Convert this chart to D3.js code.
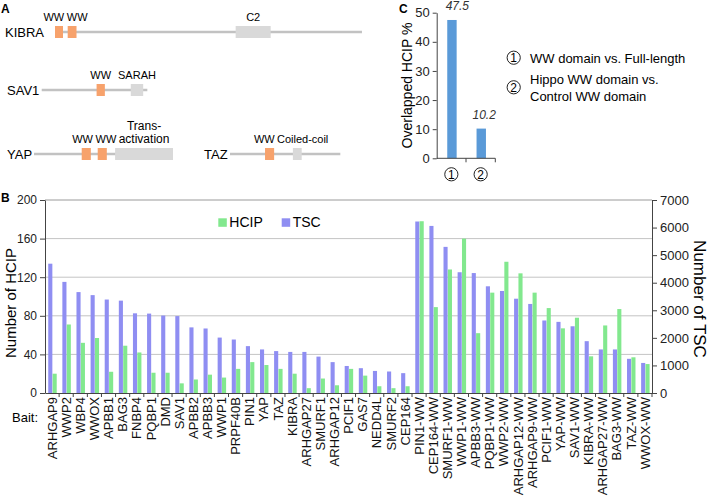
<!DOCTYPE html>
<html>
<head>
<meta charset="utf-8">
<script src="https://cdn.jsdelivr.net/npm/d3@7"></script>
<style>
  body { margin: 0; background: #fff; }
  svg { display: block; font-family: "Liberation Sans", Arial, sans-serif; }
</style>
</head>
<body>
<svg id="fig" width="709" height="501"></svg>
<script>
"use strict";

// ---- panel B data ----
const baits = ["ARHGAP9", "WWP2", "WBP4", "WWOX", "APBB1", "BAG3", "FNBP4", "PQBP1", "DMD", "SAV1",
    "APBB2", "APBB3", "WWP1", "PRPF40B", "PIN1", "YAP", "TAZ", "KIBRA", "ARHGAP27", "SMURF1",
    "ARHGAP12", "PCIF1", "GAS7", "NEDD4L", "SMURF2", "CEP164",
    "PIN1-WW", "CEP164-WW", "SMURF1-WW", "WWP1-WW", "APBB3-WW", "PQBP1-WW", "WWP2-WW", "ARHGAP12-WW",
    "ARHGAP9-WW", "PCIF1-WW", "YAP-WW", "SAV1-WW", "KIBRA-WW", "ARHGAP27-WW", "BAG3-WW", "TAZ-WW", "WWOX-WW"];
const hcipCounts = [20, 71, 52, 57, 22, 49, 42, 21, 21, 10,
    14, 19, 16, 25, 32, 29, 25, 20, 5, 15,
    8, 25, 18, 7, 5, 7,
    178, 89, 128, 160, 62, 104, 136, 124,
    104, 88, 67, 78, 38, 70, 87, 37, 30];
const tscCounts = [4690, 4030, 3660, 3550, 3390, 3350, 2890, 2880, 2810, 2790,
    2380, 2340, 2010, 1940, 1700, 1580, 1520, 1490, 1490, 1320,
    1120, 980, 900, 800, 780, 720,
    6220, 6060, 5300, 4380, 4350, 3870, 3700, 3420,
    3230, 2630, 2580, 2420, 1880, 1580, 1580, 1240, 1090];
const hcipTicks = [0, 40, 80, 120, 160, 200];
const tscTicks = [0, 1000, 2000, 3000, 4000, 5000, 6000, 7000];

// ---- panel C data ----
const overlapGroups = ["1", "2"];
const overlapPct = [47.5, 10.2];
const overlapLegend = [["WW domain vs. Full-length"], ["Hippo WW domain vs.", "Control WW domain"]];
const overlapTicks = [0, 10, 20, 30, 40, 50];

// ---- panel A data (residue positions) ----
const proteins = ["KIBRA", "SAV1", "YAP", "TAZ"];
const proteinLength = [1113, 383, 504, 400];
const proteinDomains = [
    [["WW", 0, 29], ["WW", 46, 78], ["C2", 655, 782]],
    [["WW", 199, 229], ["SARAH", 323, 368]],
    [["WW", 173, 206], ["WW", 231, 264], ["Trans-\nactivation", 294, 504]],
    [["WW", 127, 160], ["Coiled-coil", 228, 260]]
];

const PURPLE = "#8f8ef2";
const GREEN = "#82e88e";
const BLUE = "#5a9ad8";
const ORANGE = "#f7a26c";
const LIGHT = "#d9d9d9";
const AXIS = "#444";

const svg = d3.select("#fig");

function panelLetter(x, y, t) {
    svg.append("text").attr("x", x).attr("y", y).attr("font-size", 12)
        .attr("font-weight", "bold").text(t);
}

// ================= panel A =================
panelLetter(1, 12.5, "A");
const aaScale = d3.scaleLinear().domain([0, 1]).range([0, 0.2758]);
const rows = [
    {x0: 55, y: 32, lx: 5},
    {x0: 41.7, y: 90, lx: 7},
    {x0: 34, y: 154, lx: 7},
    {x0: 230, y: 154, lx: 204}
];
const gA = svg.append("g");
proteins.forEach((name, i) => {
    const r = rows[i];
    const g = gA.append("g");
    g.append("text").attr("x", r.lx).attr("y", r.y + 5).attr("font-size", 13).text(name);
    g.append("line")
        .attr("x1", r.x0).attr("x2", r.x0 + aaScale(proteinLength[i]))
        .attr("y1", r.y).attr("y2", r.y)
        .attr("stroke", "#c2c2c2").attr("stroke-width", 2.5);
    const labels = [];
    proteinDomains[i].forEach(d => {
        const x1 = r.x0 + aaScale(d[1]), x2 = r.x0 + aaScale(d[2]);
        g.append("rect").attr("x", x1).attr("y", r.y - 6)
            .attr("width", x2 - x1).attr("height", 12)
            .attr("fill", d[0] === "WW" ? ORANGE : LIGHT);
        const lines = d[0].split("\n");
        // the two-line label is set a bit larger in the original
        const fs = lines.length > 1 ? 12 : 11;
        const t = g.append("text").attr("font-size", fs).attr("text-anchor", "middle");
        lines.forEach((ln, k) => {
            t.append("tspan").attr("x", 0)
                .attr("y", r.y - 11 - (lines.length - 1 - k) * 13.5).text(ln);
        });
        labels.push({t: t, cx: (x1 + x2) / 2, w: t.node().getBBox().width});
    });
    // spread labels that would collide
    for (let k = 0; k < labels.length - 1; k++) {
        const a = labels[k], b = labels[k + 1];
        const need = (a.w + b.w) / 2 + 2;
        const gap = b.cx - a.cx;
        if (gap < need) {
            a.cx -= (need - gap) / 2;
            b.cx += (need - gap) / 2;
        }
    }
    labels.forEach(l => l.t.attr("transform", `translate(${l.cx},0)`));
});

// ================= panel C =================
panelLetter(399, 12.7, "C");
const cLeft = 436.7, cRight = 495.3, cBottom = 158.3, cTop = 12.7;
const xC = d3.scaleBand().domain(overlapGroups).range([cLeft, cRight]);
const yC = d3.scaleLinear().domain([0, 50]).range([cBottom, cTop]);
const gC = svg.append("g");
gC.selectAll("rect.bar").data(overlapGroups).join("rect")
    .attr("class", "bar")
    .attr("x", d => xC(d) + xC.bandwidth() / 2 - 4.1)
    .attr("width", 9.4)
    .attr("y", (d, i) => yC(overlapPct[i]))
    .attr("height", (d, i) => cBottom - yC(overlapPct[i]))
    .attr("fill", BLUE);
gC.selectAll("text.val").data(overlapGroups).join("text")
    .attr("class", "val")
    .attr("x", (d, i) => xC(d) + xC.bandwidth() / 2 + (i === 0 ? 6 : 3.5))
    .attr("y", (d, i) => yC(overlapPct[i]) - 10)
    .attr("text-anchor", "middle").attr("font-size", 12).attr("font-style", "italic")
    .attr("fill", "#333")
    .text((d, i) => overlapPct[i].toFixed(1));
const axC = gC.append("g").attr("transform", `translate(${cLeft},0)`)
    .call(d3.axisLeft(yC).tickValues(overlapTicks).tickSize(4).tickSizeOuter(0));
axC.selectAll("text").attr("font-size", 13).attr("font-family", null).attr("fill", "#222");
axC.selectAll("line,path").attr("stroke", AXIS);
// bottom axis of C
gC.append("line").attr("x1", cLeft).attr("x2", cRight).attr("y1", cBottom).attr("y2", cBottom)
    .attr("stroke", AXIS);
gC.selectAll("line.ct").data(overlapGroups).join("line").attr("class", "ct")
    .attr("x1", d => xC(d) + xC.bandwidth()).attr("x2", d => xC(d) + xC.bandwidth())
    .attr("y1", cBottom).attr("y2", cBottom + 4).attr("stroke", AXIS);
function circled(g, cx, cy, t) {
    g.append("circle").attr("cx", cx).attr("cy", cy).attr("r", 6.6)
        .attr("fill", "none").attr("stroke", "#222").attr("stroke-width", 1);
    g.append("text").attr("x", cx).attr("y", cy + 4.2).attr("text-anchor", "middle")
        .attr("font-size", 12).text(t);
}
overlapGroups.forEach(d => circled(gC, xC(d) + xC.bandwidth() / 2, 174.3, d));
gC.append("text")
    .attr("transform", `translate(412,${(cTop + cBottom) / 2}) rotate(-90)`)
    .attr("text-anchor", "middle").attr("font-size", 14).text("Overlapped HCIP %");
// legend of C
const legY = [57.7, 87.3];
overlapGroups.forEach((d, i) => {
    circled(gC, 513.7, legY[i], d);
    const lines = overlapLegend[i];
    lines.forEach((ln, k) => {
        gC.append("text").attr("x", 530)
            .attr("y", legY[i] + 5 - (lines.length - 1) * 8.3 + k * 16.6)
            .attr("font-size", 13).text(ln);
    });
});

// ================= panel B =================
panelLetter(1, 201.5, "B");
const bLeft = 45, bRight = 652, bTop = 200, bBottom = 393;
const x = d3.scaleBand().domain(baits).range([bLeft, bRight]);
const bw = x.bandwidth();
const xSub = d3.scaleBand().domain(["TSC", "HCIP"]).range([bw * 0.23, bw * 0.83]).paddingInner(0.06);
const yH = d3.scaleLinear().domain([0, 200]).range([bBottom, bTop]);
const yT = d3.scaleLinear().domain([0, 7000]).range([bBottom, bTop]);
const gB = svg.append("g");

// grid
gB.selectAll("line.grid").data(hcipTicks.slice(1)).join("line").attr("class", "grid")
    .attr("x1", bLeft).attr("x2", bRight)
    .attr("y1", d => yH(d)).attr("y2", d => yH(d))
    .attr("stroke", d => d === 200 ? "#9a9a9a" : "#c4c4c4").attr("stroke-width", 1);

// bars
const groups = gB.selectAll("g.bait").data(baits).join("g").attr("class", "bait")
    .attr("transform", d => `translate(${x(d)},0)`);
groups.append("rect")
    .attr("x", xSub("TSC")).attr("width", xSub.bandwidth())
    .attr("y", (d, i) => yT(tscCounts[i]))
    .attr("height", (d, i) => bBottom - yT(tscCounts[i]))
    .attr("fill", PURPLE);
groups.append("rect")
    .attr("x", xSub("HCIP")).attr("width", xSub.bandwidth())
    .attr("y", (d, i) => yH(hcipCounts[i]))
    .attr("height", (d, i) => bBottom - yH(hcipCounts[i]))
    .attr("fill", GREEN);

// left axis
const axL = gB.append("g").attr("transform", `translate(${bLeft},0)`)
    .call(d3.axisLeft(yH).tickValues(hcipTicks).tickSize(5).tickSizeOuter(0));
axL.selectAll("text").attr("font-size", 12).attr("font-family", null).attr("fill", "#222");
axL.selectAll("line,path").attr("stroke", AXIS);

// right axis
const axR = gB.append("g").attr("transform", `translate(${bRight},0)`)
    .call(d3.axisRight(yT).tickValues(tscTicks).tickFormat(d3.format("d")).tickSize(5).tickSizeOuter(0));
axR.selectAll("text").attr("font-size", 13).attr("font-family", null).attr("fill", "#222");
axR.selectAll("line,path").attr("stroke", AXIS);

// bottom axis
const axB = gB.append("g").attr("transform", `translate(0,${bBottom})`)
    .call(d3.axisBottom(x).tickSize(0).tickSizeOuter(0));
axB.select("path").attr("stroke", AXIS);
axB.selectAll("text")
    .attr("font-size", 13).attr("font-family", null).attr("fill", "#111")
    .attr("transform", "rotate(-90)")
    .attr("text-anchor", "end")
    .attr("x", -4).attr("y", 0).attr("dy", "0.36em");
gB.selectAll("line.sep").data(baits).join("line").attr("class", "sep")
    .attr("x1", d => x(d) + bw).attr("x2", d => x(d) + bw)
    .attr("y1", bBottom).attr("y2", bBottom + 4)
    .attr("stroke", AXIS);
gB.append("text").attr("x", 12).attr("y", 422).attr("font-size", 13).text("Bait:");

// axis titles
gB.append("text")
    .attr("transform", `translate(16,303) rotate(-90)`)
    .attr("text-anchor", "middle").attr("font-size", 15).text("Number of HCIP");
gB.append("text")
    .attr("transform", `translate(694,299) rotate(90)`)
    .attr("text-anchor", "middle").attr("font-size", 17).text("Number of TSC");

// legend
const legend = [["HCIP", GREEN, 218.3], ["TSC", PURPLE, 281.7]];
legend.forEach(l => {
    gB.append("rect").attr("x", l[2]).attr("y", 218.3).attr("width", 8.5).attr("height", 8.5)
        .attr("fill", l[1]);
    gB.append("text").attr("x", l[2] + 11).attr("y", 227).attr("font-size", 14).text(l[0]);
});
</script>
</body>
</html>
